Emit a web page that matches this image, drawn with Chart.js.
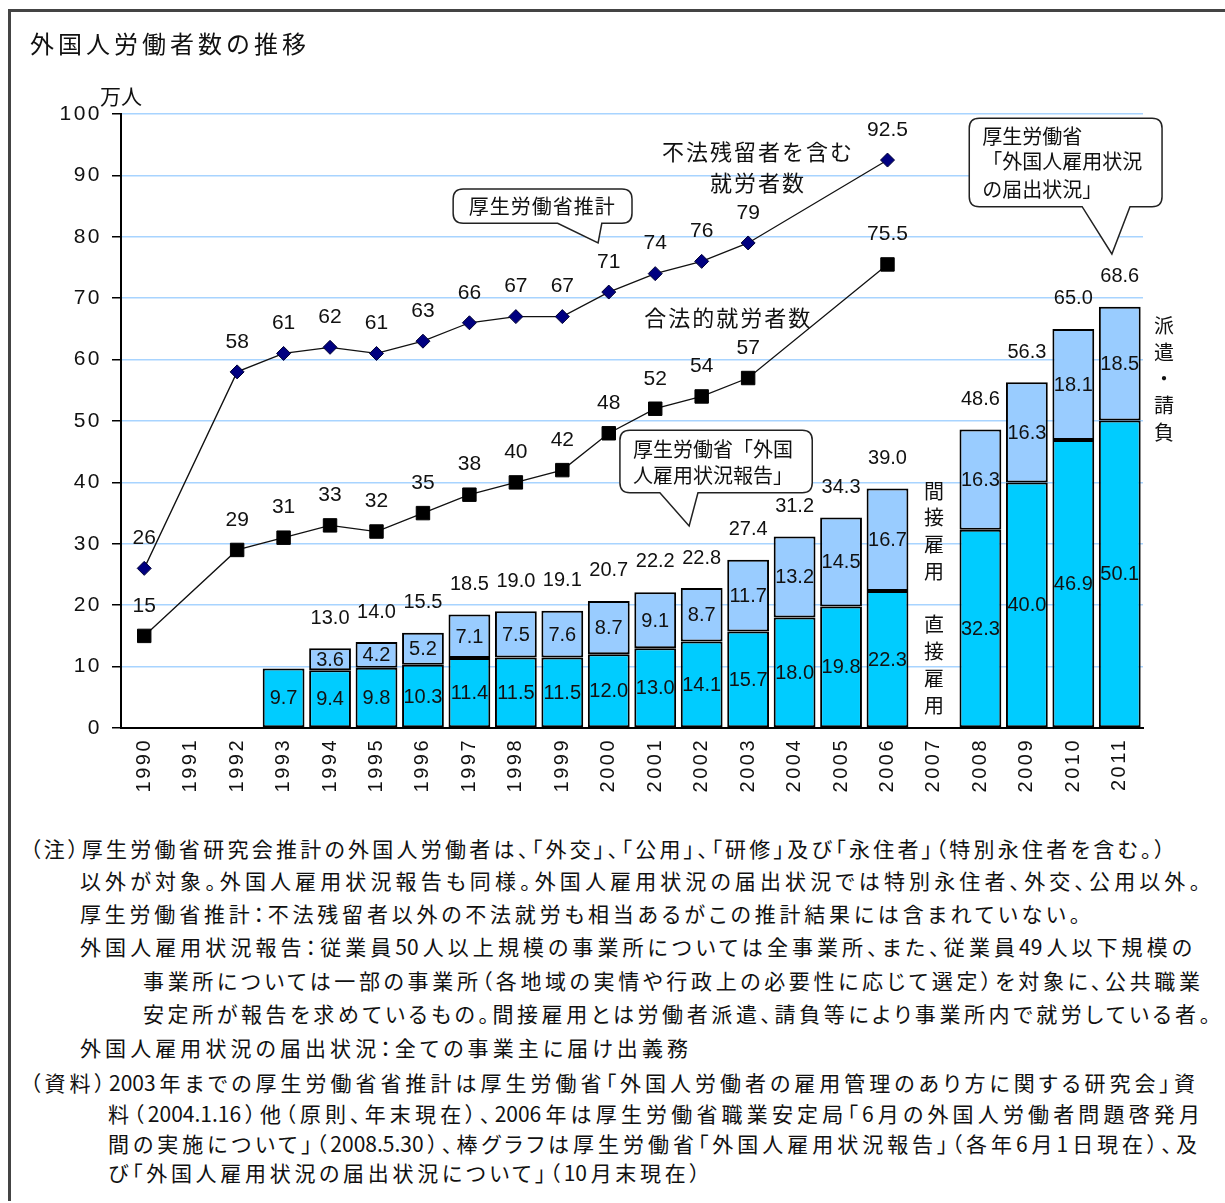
<!DOCTYPE html>
<html lang="ja">
<head>
<meta charset="utf-8">
<title>外国人労働者数の推移</title>
<script src="https://cdn.jsdelivr.net/npm/chart.js@4.4.1/dist/chart.umd.min.js"></script>
<style>
body{margin:0;background:#fff;width:1225px;height:1203px;position:relative;overflow:hidden;font-family:'Noto Sans CJK JP',sans-serif;color:#111}
#frameTop{position:absolute;left:8px;top:9px;width:1217px;height:3px;background:#444}
#frameLeft{position:absolute;left:8px;top:9px;width:3px;height:1192px;background:#444}
#title{position:absolute;left:30px;top:28px;font-size:24px;letter-spacing:4px;line-height:30px;white-space:nowrap}
#chart{position:absolute;left:0;top:0}
.note{position:absolute;font-size:21px;line-height:30px;height:30px;text-align:justify;text-align-last:justify;font-feature-settings:"palt"}
</style>
</head>
<body>
<canvas id="chart" width="1225" height="820"></canvas>
<div id="frameTop"></div>
<div id="frameLeft"></div>
<div id="title">外国人労働者数の推移</div>

<div class="note" style="left:30px;top:833px;width:1135px">（注）厚生労働省研究会推計の外国人労働者は、「外交」、「公用」、「研修」及び「永住者」（特別永住者を含む。）</div>
<div class="note" style="left:80px;top:865px;width:1120px">以外が対象。外国人雇用状況報告も同様。外国人雇用状況の届出状況では特別永住者、外交、公用以外。</div>
<div class="note" style="left:80px;top:898px;width:1000px">厚生労働省推計：不法残留者以外の不法就労も相当あるがこの推計結果には含まれていない。</div>
<div class="note" style="left:80px;top:931px;width:1112px">外国人雇用状況報告：従業員50人以上規模の事業所については全事業所、また、従業員49人以下規模の</div>
<div class="note" style="left:143px;top:965px;width:1057px">事業所については一部の事業所（各地域の実情や行政上の必要性に応じて選定）を対象に、公共職業</div>
<div class="note" style="left:143px;top:998px;width:1067px">安定所が報告を求めているもの。間接雇用とは労働者派遣、請負等により事業所内で就労している者。</div>
<div class="note" style="left:80px;top:1032px;width:608px">外国人雇用状況の届出状況：全ての事業主に届け出義務</div>
<div class="note" style="left:30px;top:1067px;width:1165px">（資料）2003年までの厚生労働省省推計は厚生労働省「外国人労働者の雇用管理のあり方に関する研究会」資</div>
<div class="note" style="left:108px;top:1098px;width:1092px">料（2004.1.16）他（原則、年末現在）、2006年は厚生労働省職業安定局「6月の外国人労働者問題啓発月</div>
<div class="note" style="left:108px;top:1128px;width:1089px">間の実施について」（2008.5.30）、棒グラフは厚生労働省「外国人雇用状況報告」（各年6月1日現在）、及</div>
<div class="note" style="left:108px;top:1157px;width:592px">び「外国人雇用状況の届出状況について」（10月末現在）</div>

<script>
// 年（横軸）
const years = ['1990','1991','1992','1993','1994','1995','1996','1997','1998','1999','2000',
               '2001','2002','2003','2004','2005','2006','2007','2008','2009','2010','2011'];

// 不法残留者を含む就労者数（厚生労働省推計）
const withIllegal = [26,null,58,61,62,61,63,66,67,67,71,74,76,79,null,null,92.5,null,null,null,null,null];
// 合法的就労者数
const legalWorkers = [15,null,29,31,33,32,35,38,40,42,48,52,54,57,null,null,75.5,null,null,null,null,null];

// 棒グラフ：直接雇用 / 間接雇用（派遣・請負）
const directEmp = [null,null,null,9.7,9.4,9.8,10.3,11.4,11.5,11.5,12.0,13.0,14.1,15.7,18.0,19.8,22.3,null,32.3,40.0,46.9,50.1];
const indirectEmp = [null,null,null,null,3.6,4.2,5.2,7.1,7.5,7.6,8.7,9.1,8.7,11.7,13.2,14.5,16.7,null,16.3,16.3,18.1,18.5];
// 棒の合計ラベル
const barTotals = [null,null,null,null,13.0,14.0,15.5,18.5,19.0,19.1,20.7,22.2,22.8,27.4,31.2,34.3,39.0,null,48.6,56.3,65.0,68.6];

// 縦軸
const yMin = 0, yMax = 100, yStep = 10;

const NUM_FONT = "'Liberation Sans', 'Noto Sans CJK JP', sans-serif";
const JP_FONT = "'Noto Sans CJK JP', sans-serif";

function fmtLine(v){ return Number.isInteger(v) ? String(v) : v.toFixed(1); }

function drawBubble(ctx, l, t, r, b, bx1, bx2, tx, ty){
    const rad = 10;
    ctx.beginPath();
    ctx.moveTo(l + rad, t);
    ctx.lineTo(r - rad, t);
    ctx.quadraticCurveTo(r, t, r, t + rad);
    ctx.lineTo(r, b - rad);
    ctx.quadraticCurveTo(r, b, r - rad, b);
    ctx.lineTo(bx2, b);
    ctx.lineTo(tx, ty);
    ctx.lineTo(bx1, b);
    ctx.lineTo(l + rad, b);
    ctx.quadraticCurveTo(l, b, l, b - rad);
    ctx.lineTo(l, t + rad);
    ctx.quadraticCurveTo(l, t, l + rad, t);
    ctx.closePath();
    ctx.fillStyle = '#fff';
    ctx.fill();
    ctx.strokeStyle = '#222';
    ctx.lineWidth = 1.5;
    ctx.stroke();
}

const labelPlugin = {
    id: 'labels',
    beforeDraw(chart){
        chart.ctx.letterSpacing = '2.5px';
    },
    afterDatasetsDraw(chart){
        const ctx = chart.ctx;
        const xs = chart.scales.x, ys = chart.scales.y;
        const px = i => xs.getPixelForValue(i);
        const py = v => ys.getPixelForValue(v);
        ctx.save();
        ctx.letterSpacing = '0px';
        ctx.fillStyle = '#111';
        ctx.textAlign = 'center';
        ctx.textBaseline = 'middle';

        // 折れ線のラベル
        [0, 1].forEach(di => {
            const meta = chart.getDatasetMeta(di);
            const vals = chart.data.datasets[di].data;
            ctx.font = '21px ' + NUM_FONT;
            meta.data.forEach((pt, i) => {
                if (vals[i] == null) return;
                ctx.fillText(fmtLine(vals[i]), pt.x, pt.y - 30);
            });
        });

        // 棒の中のラベル
        ctx.font = '20px ' + NUM_FONT;
        [2, 3].forEach(di => {
            const meta = chart.getDatasetMeta(di);
            const vals = chart.data.datasets[di].data;
            meta.data.forEach((bar, i) => {
                if (vals[i] == null) return;
                ctx.fillText(vals[i].toFixed(1), bar.x, (bar.y + bar.base) / 2 + 1);
            });
        });
        // 合計
        barTotals.forEach((v, i) => {
            if (v == null) return;
            ctx.fillText(v.toFixed(1), px(i), py(v) - 30);
        });

        // 単位
        ctx.font = '21px ' + JP_FONT;
        ctx.fillText('万人', chart.chartArea.left, py(100) - 18);

        // 系列名
        ctx.font = '22px ' + JP_FONT;
        ctx.letterSpacing = '2px';
        ctx.fillText('不法残留者を含む', px(13.21), py(93.8));
        ctx.fillText('就労者数', px(13.21), py(88.9));
        ctx.fillText('合法的就労者数', px(12.57), py(66.8));

        // 縦書き
        ctx.letterSpacing = '0px';
        ctx.font = '20px ' + JP_FONT;
        const vtext = (s, i, v) => {
            [...s].forEach((c, k) => ctx.fillText(c, px(i), py(v) + k * 26.8));
        };
        vtext('間接雇用', 17, 38.6);
        vtext('直接雇用', 17, 16.8);
        vtext('派遣・請負', 21.95, 65.6);

        // 吹き出し
        drawBubble(ctx, px(6.65), py(87.8), px(10.5), py(82.2), px(8.9), px(9.85), px(9.77), py(79.0));
        drawBubble(ctx, px(10.24), py(48.5), px(14.38), py(38.3), px(11.1), px(11.92), px(11.73), py(32.9));
        drawBubble(ctx, px(17.76), py(99.3), px(21.91), py(84.9), px(20.19), px(21.22), px(20.83), py(77.2));

        ctx.fillStyle = '#111';
        ctx.font = '20px ' + JP_FONT;
        ctx.letterSpacing = '1px';
        ctx.fillText('厚生労働省推計', px(8.57), py(85.0));
        ctx.textAlign = 'left';
        ctx.letterSpacing = '0px';
        ctx.fillText('厚生労働省「外国', px(10.52), py(45.3));
        ctx.fillText('人雇用状況報告」', px(10.52), py(41.2));
        ctx.fillText('厚生労働省', px(18.04), py(96.4));
        ctx.fillText('「外国人雇用状況', px(18.04), py(92.2));
        ctx.fillText('の届出状況」', px(18.04), py(87.8));
        ctx.restore();
    },
    afterDraw(chart){
        chart.ctx.letterSpacing = '0px';
    }
};

new Chart(document.getElementById('chart'), {
    data: {
        labels: years,
        datasets: [
            {
                type: 'line',
                label: '不法残留者を含む就労者数',
                data: withIllegal,
                borderColor: '#111',
                borderWidth: 1.3,
                pointStyle: 'rectRot',
                pointRadius: 7,
                pointBackgroundColor: '#000080',
                pointBorderColor: '#000033',
                pointBorderWidth: 1,
                spanGaps: true,
                stack: 'l1',
                order: 0
            },
            {
                type: 'line',
                label: '合法的就労者数',
                data: legalWorkers,
                borderColor: '#111',
                borderWidth: 1.3,
                pointStyle: 'rect',
                pointRadius: 9.5,
                pointBackgroundColor: '#000',
                pointBorderColor: '#000',
                pointBorderWidth: 1,
                spanGaps: true,
                stack: 'l2',
                order: 1
            },
            {
                type: 'bar',
                label: '直接雇用',
                data: directEmp,
                backgroundColor: '#00ccff',
                borderColor: '#000',
                borderWidth: 2,
                borderSkipped: false,
                inflateAmount: 0,
                stack: 'bars',
                categoryPercentage: 1,
                barPercentage: 0.9,
                order: 2
            },
            {
                type: 'bar',
                label: '間接雇用',
                data: indirectEmp,
                backgroundColor: '#99ccff',
                borderColor: '#000',
                borderWidth: 2,
                borderSkipped: false,
                inflateAmount: 0,
                stack: 'bars',
                categoryPercentage: 1,
                barPercentage: 0.9,
                order: 2
            }
        ]
    },
    options: {
        responsive: false,
        animation: false,
        devicePixelRatio: 1,
        layout: { padding: { left: 0, top: 114, right: 82, bottom: 0 } },
        plugins: { legend: { display: false }, tooltip: { enabled: false } },
        scales: {
            x: {
                stacked: true,
                offset: true,
                afterFit: s => { s.height = 92; },
                grid: { display: false, drawTicks: false },
                border: { display: true, color: '#000', width: 2 },
                ticks: {
                    color: '#111',
                    font: { family: NUM_FONT, size: 20 },
                    minRotation: 90,
                    maxRotation: 90,
                    autoSkip: false,
                    padding: 10
                }
            },
            y: {
                stacked: true,
                min: yMin,
                max: yMax,
                afterFit: s => { s.width = 121; },
                grid: { color: '#a8d4ff', lineWidth: 1.5, drawTicks: true, tickLength: 9, tickColor: '#000', tickWidth: 1.5 },
                border: { display: true, color: '#000', width: 2 },
                ticks: {
                    stepSize: yStep,
                    color: '#111',
                    font: { family: NUM_FONT, size: 21 },
                    padding: 10
                }
            }
        }
    },
    plugins: [labelPlugin]
});
</script>
</body>
</html>
